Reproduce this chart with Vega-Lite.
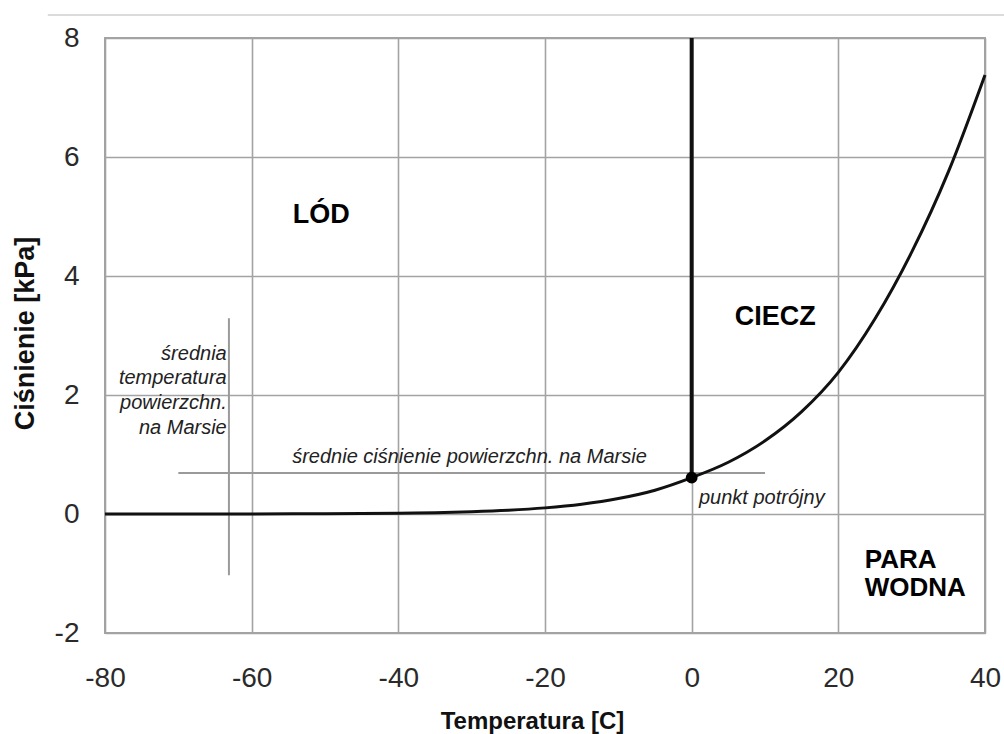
{
  "$schema": "https://vega.github.io/schema/vega-lite/v6.json",
  "width": 880,
  "height": 595,
  "autosize": {"type": "none"},
  "padding": {"left": 105, "top": 38, "right": 19, "bottom": 101},
  "background": "white",
  "config": {
    "font": "Liberation Sans",
    "view": {"stroke": "#a3a3a3", "strokeWidth": 2},
    "axis": {
      "grid": true,
      "gridColor": "#a3a3a3",
      "gridWidth": 1.6,
      "ticks": false,
      "domain": false,
      "labelFont": "Liberation Sans",
      "labelFontSize": 28,
      "labelColor": "#2a2a2a",
      "labelFlush": false,
      "labelExpr": "datum.value + ''",
      "titleFont": "Liberation Sans",
      "titleFontWeight": "bold",
      "titleColor": "#111111"
    }
  },
  "datasets": {
    "curve": [
      {"t": -80, "p": 0.0001},
      {"t": -70, "p": 0.0003},
      {"t": -60, "p": 0.001},
      {"t": -50, "p": 0.004},
      {"t": -40, "p": 0.013},
      {"t": -35, "p": 0.022},
      {"t": -30, "p": 0.038},
      {"t": -25, "p": 0.063},
      {"t": -20, "p": 0.103},
      {"t": -15, "p": 0.165},
      {"t": -10, "p": 0.26},
      {"t": -5, "p": 0.4},
      {"t": 0, "p": 0.611},
      {"t": 5, "p": 0.87},
      {"t": 10, "p": 1.23},
      {"t": 15, "p": 1.72},
      {"t": 20, "p": 2.38},
      {"t": 25, "p": 3.28},
      {"t": 30, "p": 4.4},
      {"t": 35, "p": 5.75},
      {"t": 40, "p": 7.38}
    ],
    "guides": [
      {"name": "mars pressure", "t": -70, "t2": 10, "p": 0.69, "p2": 0.69},
      {"name": "mars temperature", "t": -63.1, "t2": -63.1, "p": -1.03, "p2": 3.29}
    ],
    "boundary": [
      {"t": 0, "p": 0.611, "p2": 8}
    ],
    "triple": [
      {"t": 0, "p": 0.611}
    ],
    "topline": [
      {"t": -87.8, "t2": 42.6, "p": 8.387}
    ],
    "bold": [
      {"label": ["LÓD"], "t": -50.5, "p": 4.89, "align": "center"},
      {"label": ["CIECZ"], "t": 11.4, "p": 3.18, "align": "center"},
      {"label": ["PARA", "WODNA"], "t": 23.6, "p": -0.9, "align": "left"}
    ],
    "italic": [
      {"label": "średnie ciśnienie powierzchn. na Marsie", "t": -30.3, "p": 0.86, "align": "center"},
      {"label": "średnia", "t": -63.4, "p": 2.59, "align": "right"},
      {"label": "temperatura", "t": -63.4, "p": 2.18, "align": "right"},
      {"label": "powierzchn.", "t": -63.4, "p": 1.76, "align": "right"},
      {"label": "na Marsie", "t": -63.4, "p": 1.34, "align": "right"},
      {"label": "punkt potrójny", "t": 1.0, "p": 0.17, "align": "left"}
    ]
  },
  "encoding": {
    "x": {
      "field": "t",
      "type": "quantitative",
      "scale": {"domain": [-80, 40], "nice": false, "zero": false},
      "axis": {
        "values": [-80, -60, -40, -20, 0, 20, 40],
        "labelPadding": 31,
        "title": "Temperatura [C]",
        "titleFontSize": 24,
        "titleX": 427,
        "titleY": 95,
        "titleAlign": "center",
        "titleBaseline": "alphabetic"
      }
    },
    "y": {
      "field": "p",
      "type": "quantitative",
      "scale": {"domain": [-2, 8], "nice": false, "zero": false},
      "axis": {
        "values": [-2, 0, 2, 4, 6, 8],
        "labelPadding": 26,
        "title": "Ciśnienie [kPa]",
        "titleFontSize": 27,
        "titleAngle": -90,
        "titleX": -72,
        "titleY": 295,
        "titleAlign": "center",
        "titleBaseline": "alphabetic"
      }
    }
  },
  "layer": [
    {
      "data": {"name": "topline"},
      "mark": {"type": "rule", "color": "#cfcfcf", "strokeWidth": 1.5, "clip": false},
      "encoding": {"x2": {"field": "t2"}}
    },
    {
      "data": {"name": "guides"},
      "mark": {"type": "rule", "color": "#9a9a9a", "strokeWidth": 2},
      "encoding": {"x2": {"field": "t2"}, "y2": {"field": "p2"}}
    },
    {
      "data": {"name": "boundary"},
      "mark": {"type": "rule", "color": "#111111", "strokeWidth": 4},
      "encoding": {"y2": {"field": "p2"}}
    },
    {
      "data": {"name": "curve"},
      "mark": {"type": "line", "color": "#111111", "strokeWidth": 3, "interpolate": "monotone"},
      "encoding": {}
    },
    {
      "data": {"name": "triple"},
      "mark": {"type": "point", "filled": true, "color": "#000000", "size": 140, "opacity": 1},
      "encoding": {}
    },
    {
      "data": {"name": "bold"},
      "transform": [{"filter": "datum.align == 'center'"}],
      "mark": {"type": "text", "fontWeight": "bold", "fontSize": 27, "color": "#000000", "baseline": "alphabetic", "align": "center", "font": "Liberation Sans"},
      "encoding": {"text": {"field": "label"}}
    },
    {
      "data": {"name": "bold"},
      "transform": [{"filter": "datum.align == 'left'"}],
      "mark": {"type": "text", "fontWeight": "bold", "fontSize": 26, "lineHeight": 28, "color": "#000000", "baseline": "alphabetic", "align": "left", "font": "Liberation Sans"},
      "encoding": {"text": {"field": "label"}}
    },
    {
      "data": {"name": "italic"},
      "transform": [{"filter": "datum.align == 'center'"}],
      "mark": {"type": "text", "fontStyle": "italic", "fontSize": 20, "color": "#222222", "baseline": "alphabetic", "align": "center", "font": "Liberation Sans"},
      "encoding": {"text": {"field": "label"}}
    },
    {
      "data": {"name": "italic"},
      "transform": [{"filter": "datum.align == 'right'"}],
      "mark": {"type": "text", "fontStyle": "italic", "fontSize": 20, "color": "#222222", "baseline": "alphabetic", "align": "right", "font": "Liberation Sans"},
      "encoding": {"text": {"field": "label"}}
    },
    {
      "data": {"name": "italic"},
      "transform": [{"filter": "datum.align == 'left'"}],
      "mark": {"type": "text", "fontStyle": "italic", "fontSize": 20, "color": "#222222", "baseline": "alphabetic", "align": "left", "font": "Liberation Sans"},
      "encoding": {"text": {"field": "label"}}
    }
  ]
}
